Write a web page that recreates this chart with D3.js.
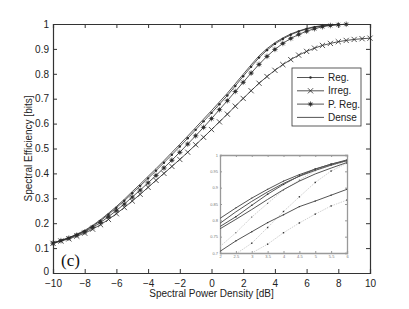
<!DOCTYPE html>
<html>
<head>
<meta charset="utf-8">
<script src="https://cdn.jsdelivr.net/npm/d3@7"></script>
<style>
  body { margin: 0; background: #fff; }
  svg { display: block; font-family: "Liberation Sans", Arial, sans-serif; }
  .axis path, .axis line { stroke: #333; }
  .axis text { fill: #222; font-size: 10px; }
  .inset .axis path, .inset .axis line { stroke: #999; }
  .inset .axis text { fill: #777; font-size: 4px; }
</style>
</head>
<body>
<svg id="chart" width="409" height="309"></svg>
<script>
// ── data ─────────────────────────────────────────────────
const xReg   = d3.range(-10, 8.01, 0.5);
const yReg   = [.120,.130,.141,.154,.168,.188,.210,.235,.262,.290,.320,.350,.380,.411,.443,.475,.508,.541,.575,.609,.643,.678,.713,.751,.790,.828,.865,.895,.920,.940,.957,.970,.980,.987,.992,.996,.998];
const xPReg  = d3.range(-10, 8.51, 0.5);
const yPReg  = [.120,.130,.140,.152,.165,.183,.203,.226,.251,.277,.305,.333,.362,.392,.422,.453,.485,.518,.551,.585,.620,.656,.692,.729,.766,.803,.838,.870,.898,.922,.942,.958,.971,.981,.989,.994,.997,.999];
const xIrreg = d3.range(-10, 10.01, 0.5);
const yIrreg = [.119,.128,.137,.148,.160,.176,.194,.215,.238,.263,.289,.316,.344,.372,.400,.428,.456,.485,.515,.545,.576,.607,.638,.670,.701,.732,.762,.789,.814,.837,.857,.875,.890,.903,.914,.922,.929,.934,.938,.941,.943];
const xDense = d3.range(-10, 7.51, 0.5);
const yDense = [.121,.131,.142,.156,.171,.191,.214,.240,.267,.296,.327,.357,.388,.419,.451,.484,.517,.550,.584,.618,.652,.687,.722,.760,.798,.836,.872,.901,.925,.944,.960,.972,.982,.989,.994,.997];

const xTicks = d3.range(-10, 10.1, 2);
const yTicks = d3.range(0, 1.01, 0.1);
const legendLabels = ['Reg.', 'Irreg.', 'P. Reg.', 'Dense'];

// inset (zoomed view, 2..6 dB)
const xIn = d3.range(2, 6.01, 0.5);
const inSolidA = [.806,.838,.868,.895,.920,.940,.957,.972,.985];
const inSolidB = [.791,.826,.858,.887,.913,.935,.953,.969,.983];
const inSolidC = [.781,.811,.846,.880,.910,.936,.957,.972,.983];
const inSolidD = [.774,.803,.833,.864,.894,.920,.942,.960,.977];
const inSolidE = [.705,.737,.765,.793,.817,.842,.859,.877,.895];
const inDotF   = [.720,.762,.810,.852,.893,.923,.952,.968,.980];
const xInG = d3.range(2.5, 6.01, 0.5);
const inDotG   = [.697,.730,.778,.827,.872,.916,.951,.975];
const xInH = d3.range(3, 6.01, 0.5);
const inDotH   = [.700,.727,.762,.792,.819,.844,.862];
const inXTicks = d3.range(2, 6.01, 0.5);
const inYTicks = [0.7, 0.75, 0.8, 0.85, 0.9, 0.95, 1];

// ── layout ───────────────────────────────────────────────
const svg = d3.select('#chart');
const L = 53, R = 370, T = 24, B = 273;
const x = d3.scaleLinear().domain([-10, 10]).range([L, R]);
const y = d3.scaleLinear().domain([0, 1]).range([B, T]);
const ink = '#2a2a2a';

// axes (box with inward ticks)
svg.append('g').attr('class', 'axis').attr('transform', `translate(0,${B})`)
  .call(d3.axisBottom(x).tickValues(xTicks).tickSize(-4).tickPadding(7).tickFormat(d => d < 0 ? '\u2212' + (-d) : d));
svg.append('g').attr('class', 'axis').attr('transform', `translate(0,${T})`)
  .call(d3.axisTop(x).tickValues(xTicks).tickSize(-4).tickFormat(''));
const yAx = svg.append('g').attr('class', 'axis').attr('transform', `translate(${L},0)`)
  .call(d3.axisLeft(y).tickValues(yTicks).tickSize(-4).tickPadding(4).tickFormat(d => d === 0 || d === 1 ? d : d3.format('.1f')(d)));
yAx.selectAll('.tick').filter(d => d === 0).select('text').attr('y', -2);
svg.append('g').attr('class', 'axis').attr('transform', `translate(${R},0)`)
  .call(d3.axisRight(y).tickValues(yTicks).tickSize(-4).tickFormat(''));
svg.selectAll('.axis .domain').attr('stroke-width', 1.2);

svg.append('text').attr('x', (L + R) / 2).attr('y', 297).attr('text-anchor', 'middle')
  .attr('font-size', 10).attr('fill', '#222').text('Spectral Power Density [dB]');
svg.append('text').attr('transform', `translate(32,${(T + B) / 2}) rotate(-90)`)
  .attr('text-anchor', 'middle').attr('font-size', 10).attr('fill', '#222').text('Spectral Efficiency [bits]');

// ── markers ──────────────────────────────────────────────
function drawMarker(sel, type, cx, cy) {
  if (type === 'dot') {
    sel.append('circle').attr('cx', cx).attr('cy', cy).attr('r', 1.2).attr('fill', ink);
  } else if (type === 'x') {
    const s = 2.6;
    sel.append('path').attr('d', `M${cx - s},${cy - s}L${cx + s},${cy + s}M${cx - s},${cy + s}L${cx + s},${cy - s}`)
      .attr('stroke', ink).attr('stroke-width', 0.8);
  } else if (type === 'star') {
    const s = 2.8, t = 2;
    sel.append('circle').attr('cx', cx).attr('cy', cy).attr('r', 1.6).attr('fill', '#444');
    sel.append('path').attr('d', `M${cx - s},${cy}L${cx + s},${cy}M${cx},${cy - s}L${cx},${cy + s}M${cx - t},${cy - t}L${cx + t},${cy + t}M${cx - t},${cy + t}L${cx + t},${cy - t}`)
      .attr('stroke', ink).attr('stroke-width', 0.6);
  }
}

const series = [
  { xs: xDense, ys: yDense, marker: null },
  { xs: xIrreg, ys: yIrreg, marker: 'x' },
  { xs: xPReg, ys: yPReg, marker: 'star' },
  { xs: xReg, ys: yReg, marker: 'dot' }
];
const line = d3.line().x(d => x(d[0])).y(d => y(d[1]));
const curves = svg.append('g');
series.forEach(s => {
  const pts = s.xs.map((v, i) => [v, s.ys[i]]);
  curves.append('path').attr('d', line(pts)).attr('fill', 'none').attr('stroke', ink).attr('stroke-width', 0.8);
  if (s.marker) pts.forEach(p => drawMarker(curves, s.marker, x(p[0]), y(p[1])));
});

// ── legend ───────────────────────────────────────────────
const lg = svg.append('g');
lg.append('rect').attr('x', 292).attr('y', 68).attr('width', 69).attr('height', 58)
  .attr('fill', '#fff').attr('stroke', '#333').attr('stroke-width', 0.8);
const legendMarkers = ['dot', 'x', 'star', null];
legendLabels.forEach((lab, i) => {
  const ly = 77.5 + i * 13.3;
  lg.append('line').attr('x1', 297).attr('x2', 324).attr('y1', ly).attr('y2', ly).attr('stroke', ink).attr('stroke-width', 0.8);
  if (legendMarkers[i]) drawMarker(lg, legendMarkers[i], 310.5, ly);
  lg.append('text').attr('x', 328).attr('y', ly + 3.5).attr('font-size', 10).attr('fill', '#222').text(lab);
});

svg.append('text').attr('x', 61).attr('y', 266).attr('font-family', '"Liberation Serif", serif')
  .attr('font-size', 17).attr('fill', '#111').text('(c)');

// ── inset ────────────────────────────────────────────────
const inset = svg.append('g').attr('class', 'inset');
const iL = 220, iR = 347, iT = 155, iB = 253;
const xi = d3.scaleLinear().domain([2, 6]).range([iL, iR]);
const yi = d3.scaleLinear().domain([0.7, 1]).range([iB, iT]);
inset.append('rect').attr('x', iL).attr('y', iT).attr('width', iR - iL).attr('height', iB - iT).attr('fill', '#fff');
inset.append('g').attr('class', 'axis').attr('transform', `translate(0,${iB})`)
  .call(d3.axisBottom(xi).tickValues(inXTicks).tickSize(-2).tickPadding(2).tickFormat(d3.format('')));
inset.append('g').attr('class', 'axis').attr('transform', `translate(0,${iT})`)
  .call(d3.axisTop(xi).tickValues(inXTicks).tickSize(-2).tickFormat(''));
inset.append('g').attr('class', 'axis').attr('transform', `translate(${iL},0)`)
  .call(d3.axisLeft(yi).tickValues(inYTicks).tickSize(-2).tickPadding(2).tickFormat(d3.format('')));
inset.append('g').attr('class', 'axis').attr('transform', `translate(${iR},0)`)
  .call(d3.axisRight(yi).tickValues(inYTicks).tickSize(-2).tickFormat(''));
inset.selectAll('.domain').attr('stroke-width', 1.3);

const iline = d3.line().x(d => xi(d[0])).y(d => yi(d[1]));
const inClip = inset.append('clipPath').attr('id', 'inclip');
inClip.append('rect').attr('x', iL).attr('y', iT).attr('width', iR - iL).attr('height', iB - iT);
const ic = inset.append('g').attr('clip-path', 'url(#inclip)');
const inSeries = [
  { xs: xIn, ys: inDotF, solid: false, mk: 1 },
  { xs: xInG, ys: inDotG, solid: false, mk: 1.4 },
  { xs: xInH, ys: inDotH, solid: false, mk: 1.4 },
  { xs: xIn, ys: inSolidE, solid: true, mk: 1.2 },
  { xs: xIn, ys: inSolidD, solid: true, mk: 0 },
  { xs: xIn, ys: inSolidC, solid: true, mk: 1.4 },
  { xs: xIn, ys: inSolidB, solid: true, mk: 0 },
  { xs: xIn, ys: inSolidA, solid: true, mk: 1 }
];
inSeries.forEach(s => {
  const pts = s.xs.map((v, i) => [v, s.ys[i]]);
  ic.append('path').attr('d', iline(pts)).attr('fill', 'none')
    .attr('stroke', s.solid ? '#555' : '#bbb').attr('stroke-width', s.solid ? 1 : 0.7)
    .attr('stroke-dasharray', s.solid ? null : '1.5,1');
  if (s.mk) pts.slice(1).forEach(p => ic.append('rect')
    .attr('x', xi(p[0]) - s.mk / 2).attr('y', yi(p[1]) - s.mk / 2)
    .attr('width', s.mk).attr('height', s.mk).attr('fill', '#333'));
});
</script>
</body>
</html>
